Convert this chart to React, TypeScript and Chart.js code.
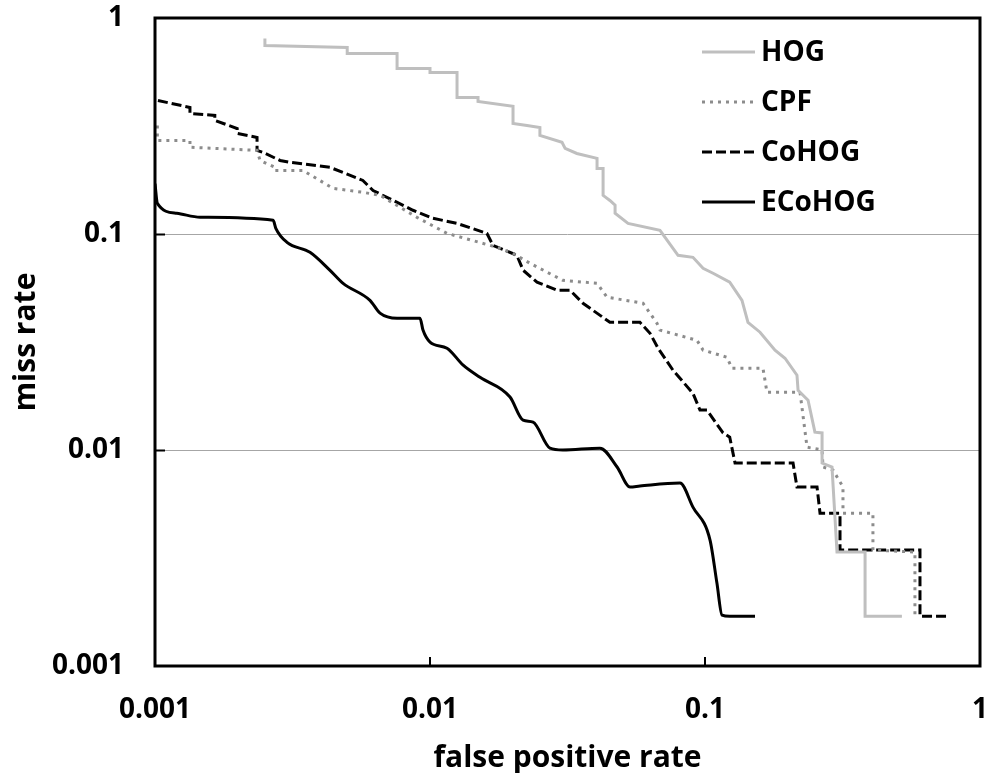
import React, { useEffect, useRef } from 'react';
import { Chart, registerables } from 'chart.js';

Chart.register(...registerables);

// ---- axis ticks ----
const xTicks = [0.001, 0.01, 0.1, 1];
const yTicks = [0.001, 0.01, 0.1, 1];
const gridValues = [0.01, 0.1];
const innerTickX = [0.01, 0.1];
const innerTickY = [0.01, 0.1];

// ---- series ----
const seriesNames = ['HOG', 'CPF', 'CoHOG', 'ECoHOG'];

const hogFpr = [0.00251, 0.00251, 0.005, 0.005, 0.00759, 0.00759, 0.01, 0.01, 0.01254, 0.01254, 0.01495, 0.01495, 0.02004, 0.02004, 0.02253, 0.0251, 0.0251, 0.0302, 0.031, 0.0342, 0.0405, 0.0405, 0.0426, 0.0426, 0.0451, 0.0471, 0.0471, 0.0525, 0.0686, 0.0798, 0.0904, 0.0984, 0.107, 0.123, 0.1363, 0.1433, 0.1585, 0.1797, 0.1954, 0.216, 0.218, 0.237, 0.251, 0.2665, 0.2665, 0.2896, 0.302, 0.382, 0.382, 0.52];
const hogMiss = [0.804, 0.746, 0.731, 0.685, 0.685, 0.584, 0.584, 0.56, 0.56, 0.429, 0.429, 0.411, 0.39, 0.325, 0.318, 0.311, 0.286, 0.2656, 0.249, 0.236, 0.224, 0.201, 0.201, 0.151, 0.143, 0.136, 0.1247, 0.112, 0.104, 0.0797, 0.078, 0.0694, 0.0658, 0.0598, 0.0493, 0.039, 0.0351, 0.029, 0.0266, 0.0222, 0.0189, 0.017, 0.0121, 0.012, 0.0087, 0.00834, 0.00337, 0.00337, 0.0017, 0.0017];

const cpfFpr = [0.00102, 0.00102, 0.00134, 0.00134, 0.00235, 0.00241, 0.00273, 0.00273, 0.00345, 0.00444, 0.0057, 0.00658, 0.00897, 0.01153, 0.0175, 0.02, 0.0231, 0.0304, 0.0405, 0.044, 0.0595, 0.0669, 0.0686, 0.0935, 0.0984, 0.12, 0.1254, 0.1625, 0.168, 0.2216, 0.235, 0.2665, 0.2686, 0.2921, 0.3175, 0.3175, 0.408, 0.408, 0.58, 0.58];
const cpfMiss = [0.318, 0.271, 0.271, 0.252, 0.244, 0.219, 0.2035, 0.197, 0.197, 0.1627, 0.156, 0.151, 0.1194, 0.1007, 0.0868, 0.0814, 0.0732, 0.061, 0.0591, 0.051, 0.0478, 0.0386, 0.0359, 0.0322, 0.029, 0.0269, 0.0239, 0.0239, 0.0185, 0.0185, 0.0103, 0.01, 0.00834, 0.00807, 0.00674, 0.0051, 0.0051, 0.00344, 0.00337, 0.0017];

const cohogFpr = [0.001025, 0.00134, 0.00134, 0.00165, 0.00165, 0.00199, 0.00199, 0.00235, 0.00235, 0.00247, 0.00285, 0.0031, 0.00433, 0.0057, 0.00621, 0.00867, 0.01025, 0.01254, 0.0161, 0.01695, 0.0207, 0.0218, 0.0245, 0.029, 0.0323, 0.036, 0.0451, 0.058, 0.0631, 0.0675, 0.0765, 0.0904, 0.0959, 0.1017, 0.1163, 0.123, 0.1286, 0.209, 0.216, 0.2555, 0.262, 0.3097, 0.3097, 0.605, 0.605, 0.759];
const cohogMiss = [0.415, 0.3855, 0.3617, 0.354, 0.3357, 0.308, 0.292, 0.28, 0.244, 0.2387, 0.219, 0.2147, 0.2035, 0.177, 0.159, 0.1288, 0.1182, 0.112, 0.1007, 0.0886, 0.0797, 0.068, 0.0598, 0.0549, 0.0549, 0.0478, 0.039, 0.039, 0.0347, 0.0296, 0.0234, 0.0183, 0.0153, 0.0153, 0.012, 0.01147, 0.0087, 0.0087, 0.00674, 0.00674, 0.0051, 0.0051, 0.00344, 0.00344, 0.0017, 0.0017];

const ecohogFpr = [0.001, 0.00102, 0.0012, 0.00146, 0.00269, 0.00275, 0.00302, 0.00366, 0.00433, 0.00483, 0.00605, 0.00658, 0.00759, 0.0092, 0.00943, 0.01, 0.01153, 0.0132, 0.0152, 0.01954, 0.0218, 0.0237, 0.0273, 0.0304, 0.0415, 0.0479, 0.0534, 0.058, 0.0811, 0.0904, 0.1043, 0.1105, 0.1153, 0.123, 0.152];
const ecohogMiss = [0.171, 0.1387, 0.1247, 0.1195, 0.1157, 0.1063, 0.0915, 0.0823, 0.0679, 0.0591, 0.0493, 0.043, 0.0407, 0.0407, 0.0359, 0.0316, 0.0296, 0.0247, 0.0217, 0.0176, 0.01375, 0.01346, 0.0102, 0.01, 0.0102, 0.00834, 0.00674, 0.00681, 0.00703, 0.00544, 0.00383, 0.00242, 0.00172, 0.0017, 0.0017];

const zip = (xs: number[], ys: number[]) => xs.map((x, i) => ({ x, y: ys[i] }));

const FONT = "'Open Sans', 'DejaVu Sans', sans-serif";
const CLEAR = 'rgba(0,0,0,0)';

export default function App() {
  const ref = useRef<HTMLCanvasElement>(null);

  useEffect(() => {
    document.body.style.margin = '0';
    Chart.defaults.font.family = FONT;
    Chart.defaults.color = '#000';

    const framePlugin = {
      id: 'framePlugin',
      afterDraw(chart: any) {
        const { ctx, chartArea: ca, scales } = chart;
        ctx.save();
        // inner tick marks
        ctx.strokeStyle = '#000';
        ctx.lineWidth = 2;
        ctx.setLineDash([]);
        ctx.beginPath();
        innerTickX.forEach((v) => {
          const px = Math.round(scales.x.getPixelForValue(v));
          ctx.moveTo(px, ca.bottom);
          ctx.lineTo(px, ca.bottom - 9);
        });
        innerTickY.forEach((v) => {
          const py = Math.round(scales.y.getPixelForValue(v)) + 0.5;
          ctx.moveTo(ca.left, py);
          ctx.lineTo(ca.left + 10, py);
        });
        ctx.stroke();
        // frame
        ctx.lineWidth = 3;
        ctx.strokeRect(ca.left, ca.top, ca.right - ca.left, ca.bottom - ca.top);

        // legend (inside the plot, top right), styled from the datasets
        const x0 = ca.right - 278;
        const lineLen = 53;
        ctx.font = `bold 28px ${FONT}`;
        ctx.textBaseline = 'middle';
        ctx.textAlign = 'left';
        chart.data.datasets.forEach((ds: any, i: number) => {
          const y = ca.top + 34 + i * 50;
          ctx.beginPath();
          ctx.strokeStyle = ds.borderColor;
          ctx.lineWidth = ds.borderWidth;
          ctx.setLineDash(ds.borderDash || []);
          ctx.moveTo(x0, y);
          ctx.lineTo(x0 + lineLen, y);
          ctx.stroke();
          ctx.setLineDash([]);
          ctx.fillStyle = '#000';
          ctx.fillText(ds.label, x0 + lineLen + 6, y + 1);
        });
        ctx.restore();
      },
    };

    const chart = new Chart(ref.current as HTMLCanvasElement, {
      type: 'line',
      data: {
        datasets: [
          {
            label: seriesNames[0],
            data: zip(hogFpr, hogMiss),
            borderColor: '#bfbfbf',
            backgroundColor: '#bfbfbf',
            borderWidth: 3,
            tension: 0,
          },
          {
            label: seriesNames[1],
            data: zip(cpfFpr, cpfMiss),
            borderColor: '#8c8c8c',
            backgroundColor: '#8c8c8c',
            borderWidth: 3,
            borderDash: [3, 5],
            tension: 0,
          },
          {
            label: seriesNames[2],
            data: zip(cohogFpr, cohogMiss),
            borderColor: '#000',
            backgroundColor: '#000',
            borderWidth: 3,
            borderDash: [10, 4],
            tension: 0,
          },
          {
            label: seriesNames[3],
            data: zip(ecohogFpr, ecohogMiss),
            borderColor: '#000',
            backgroundColor: '#000',
            borderWidth: 3,
            cubicInterpolationMode: 'monotone',
          },
        ] as any,
      },
      options: {
        animation: false,
        responsive: false,
        events: [],
        layout: { padding: { top: 18, right: 10, left: 0, bottom: 0 } },
        elements: { point: { radius: 0, hoverRadius: 0 } },
        plugins: {
          tooltip: { enabled: false },
          legend: { display: false },
        },
        scales: {
          x: {
            type: 'logarithmic',
            min: 0.001,
            max: 1,
            position: 'bottom',
            afterBuildTicks: (s: any) => {
              s.ticks = xTicks.map((v) => ({ value: v }));
            },
            afterFit: (s: any) => {
              s.height = 107;
            },
            border: { display: false },
            grid: {
              display: true,
              color: CLEAR,
              drawOnChartArea: false,
              drawTicks: true,
              tickLength: 27,
              tickColor: CLEAR,
            },
            ticks: {
              callback: (v: any) => String(v),
              autoSkip: false,
              maxRotation: 0,
              padding: 0,
              color: '#000',
              font: { size: 28, weight: 'bold' },
            },
            title: {
              display: true,
              text: 'false positive rate',
              color: '#000',
              font: { size: 30, weight: 'bold' },
              padding: { top: 0, bottom: -3 },
            },
          },
          y: {
            type: 'logarithmic',
            min: 0.001,
            max: 1,
            afterBuildTicks: (s: any) => {
              s.ticks = yTicks.map((v) => ({ value: v }));
            },
            afterFit: (s: any) => {
              s.width = 155;
            },
            border: { display: false },
            grid: {
              drawTicks: true,
              tickLength: 31,
              tickColor: CLEAR,
              lineWidth: 1,
              color: (c: any) =>
                c.tick && gridValues.includes(c.tick.value) ? '#a6a6a6' : CLEAR,
            },
            ticks: {
              callback: (v: any) => String(v),
              autoSkip: false,
              padding: 0,
              color: '#000',
              font: { size: 28, weight: 'bold' },
            },
            title: {
              display: true,
              text: 'miss rate',
              color: '#000',
              font: { size: 30, weight: 'bold' },
              padding: { top: 8, bottom: 0 },
            },
          },
        },
      } as any,
      plugins: [framePlugin],
    });

    return () => chart.destroy();
  }, []);

  return (
    <div style={{ width: 990, height: 773 }}>
      <canvas ref={ref} width={990} height={773} style={{ display: 'block' }} />
    </div>
  );
}
